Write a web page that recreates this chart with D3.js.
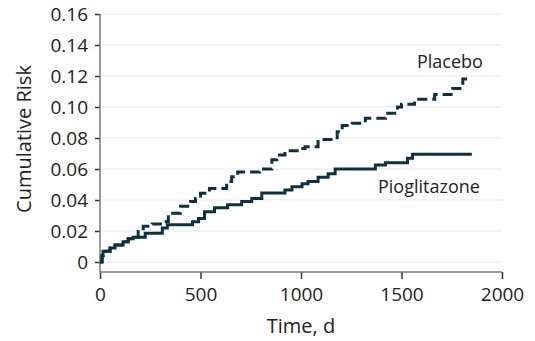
<!DOCTYPE html>
<html>
<head>
<meta charset="utf-8">
<script src="https://cdn.jsdelivr.net/npm/d3@7"></script>
<style>
  body { margin: 0; background: #fff; }
  svg text { font-family: "Open Sans", sans-serif; fill: #222; }
</style>
</head>
<body>
<div id="chart"></div>
<script>
// step times (days) and cumulative risk
var pioTime = [0, 10, 15, 50, 75, 115, 140, 165, 225, 310, 335, 460, 490, 520, 570, 635, 705, 755, 805, 920, 955, 1005, 1035, 1085, 1135, 1170, 1370, 1420, 1530, 1555, 1850];
var pioRisk = [0, 0.004, 0.007, 0.009, 0.011, 0.013, 0.015, 0.016, 0.0185, 0.022, 0.024, 0.026, 0.028, 0.0325, 0.035, 0.037, 0.039, 0.041, 0.0445, 0.0465, 0.0486, 0.0505, 0.052, 0.0546, 0.057, 0.06, 0.0626, 0.064, 0.067, 0.0695, 0.0695];

var plaTime = [0, 10, 15, 50, 75, 115, 140, 165, 190, 215, 260, 310, 340, 400, 450, 475, 500, 545, 630, 655, 685, 795, 855, 880, 920, 995, 1020, 1085, 1180, 1205, 1255, 1320, 1420, 1480, 1500, 1565, 1665, 1755, 1805, 1850];
var plaRisk = [0, 0.004, 0.007, 0.009, 0.011, 0.013, 0.015, 0.016, 0.0196, 0.023, 0.0245, 0.026, 0.0315, 0.036, 0.039, 0.041, 0.0443, 0.0475, 0.052, 0.055, 0.058, 0.06, 0.066, 0.069, 0.0718, 0.0733, 0.0744, 0.079, 0.084, 0.088, 0.0895, 0.0927, 0.096, 0.1, 0.1017, 0.105, 0.108, 0.112, 0.118, 0.118];

var xTicks = [0, 500, 1000, 1500, 2000];
var yTicks = [0, 0.02, 0.04, 0.06, 0.08, 0.10, 0.12, 0.14, 0.16];

var width = 535, height = 341;
var ink = "#0c3242";

var svg = d3.select("#chart").append("svg")
    .attr("width", width)
    .attr("height", height);

var x = d3.scaleLinear().domain([0, 2000]).range([100, 502]);
var y = d3.scaleLinear().domain([0, 0.16]).range([262, 14]);
var axisY = 272;

//gridlines
svg.append("g").selectAll("line")
    .data(yTicks)
    .enter()
    .append("line")
    .attr("x1", x(0))
    .attr("x2", x(2000))
    .attr("y1", function(d){ return y(d); })
    .attr("y2", function(d){ return y(d); })
    .style("stroke", "#f2f3f5")
    .style("stroke-width", 2);

//y axis
var gy = svg.append("g")
    .attr("transform", "translate(" + x(0) + ",0)")
    .call(d3.axisLeft(y)
        .tickValues(yTicks)
        .tickSize(5)
        .tickPadding(7)
        .tickFormat(function(d){ return d === 0 ? "0" : d3.format(".2f")(d); }));
gy.select(".domain").remove();
gy.selectAll(".tick line").style("stroke", "#333").style("stroke-width", 1.5);
gy.selectAll(".tick text").style("font-size", "19px").style("font-family", "Open Sans");

//x axis
var gx = svg.append("g")
    .attr("transform", "translate(0," + axisY + ")")
    .call(d3.axisBottom(x)
        .tickValues(xTicks)
        .tickSize(7)
        .tickPadding(9)
        .tickFormat(d3.format("d")));
gx.select(".domain").remove();
gx.selectAll(".tick line").style("stroke", "#333").style("stroke-width", 1.5);
gx.selectAll(".tick text").style("font-size", "19px").style("font-family", "Open Sans");

//axis lines
svg.append("line")
    .attr("x1", x(0)).attr("x2", x(0))
    .attr("y1", y(0.16)).attr("y2", axisY)
    .style("stroke", "#777").style("stroke-width", 1.5);
svg.append("line")
    .attr("x1", x(0)).attr("x2", x(2000))
    .attr("y1", axisY).attr("y2", axisY)
    .style("stroke", "#777").style("stroke-width", 1.5);

//curves
var line = d3.line()
    .x(function(d){ return x(d[0]); })
    .y(function(d){ return y(d[1]); })
    .curve(d3.curveStepAfter);

svg.append("path")
    .datum(d3.zip(pioTime, pioRisk))
    .attr("d", line)
    .style("fill", "none")
    .style("stroke", ink)
    .style("stroke-width", 3);

svg.append("path")
    .datum(d3.zip(plaTime, plaRisk))
    .attr("d", line)
    .style("fill", "none")
    .style("stroke", ink)
    .style("stroke-width", 3)
    .style("stroke-dasharray", "10,5");

//labels
svg.append("text")
    .text("Placebo")
    .attr("x", 417)
    .attr("y", 68)
    .style("font-size", "18px");

svg.append("text")
    .text("Pioglitazone")
    .attr("x", 378)
    .attr("y", 193)
    .style("font-size", "18px");

svg.append("text")
    .text("Time, d")
    .attr("x", 301)
    .attr("y", 333)
    .attr("text-anchor", "middle")
    .style("font-size", "20px");

svg.append("text")
    .text("Cumulative Risk")
    .attr("transform", "translate(31,139) rotate(-90)")
    .attr("text-anchor", "middle")
    .style("font-size", "20px");
</script>
</body>
</html>
